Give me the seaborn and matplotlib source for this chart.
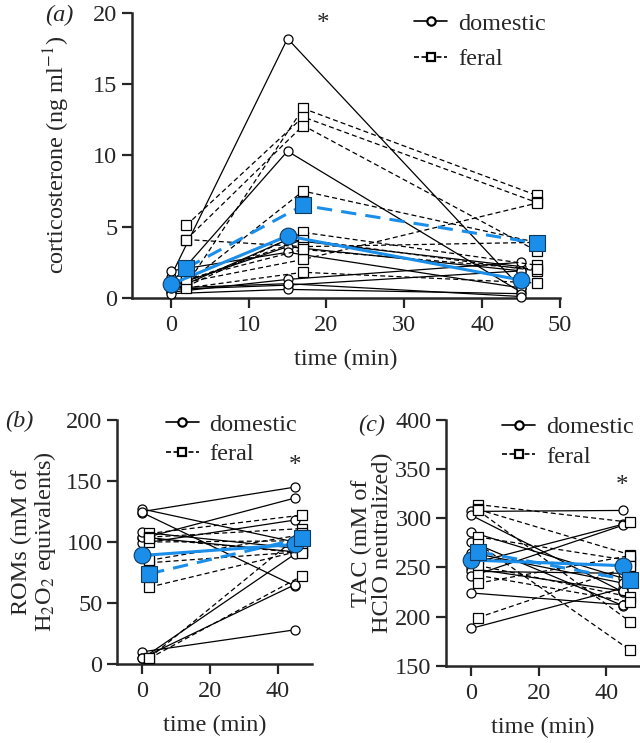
import numpy as np
import pandas as pd
import matplotlib.pyplot as plt
from matplotlib.lines import Line2D
import seaborn as sns

sns.set_style("ticks")
plt.rcParams["font.family"] = ["Liberation Serif", "DejaVu Serif"]
plt.rcParams["mathtext.fontset"] = "stix"

BLUE = "#1a8ee8"

# (a) corticosterone - domestic sampled at 0/15/45 min, feral at 2/17/47 min
cort_dom_time = [0, 15, 45]
cort_fer_time = [2, 17, 47]
cort_dom_0 = [1.5, 1.0, 0.5, 0.8, 1.9, 0.4, 0.6, 0.3, 0.7]
cort_dom_15 = [18.2, 10.3, 4.1, 3.6, 3.2, 1.3, 0.9, 0.6, 1.0]
cort_dom_45 = [0.7, 0.4, 2.2, 1.9, 0.7, 2.5, 1.9, 0.3, 0.1]
cort_fer_2 = [0.9, 5.1, 4.1, 1.0, 0.8, 1.2, 4.1, 1.1, 0.7, 1.3]
cort_fer_17 = [13.3, 12.7, 12.1, 7.5, 4.6, 4.1, 3.6, 2.7, 1.8, 3.4]
cort_fer_47 = [7.2, 6.7, 3.3, 3.9, 2.3, 1.9, 3.9, 6.65, 1.05, 2.0]
cort_dom_mean = [0.95, 4.35, 1.25]
cort_fer_mean = [2.1, 6.5, 3.85]

# (b) ROMs and (c) TAC - domestic at 0/45 min, feral at 2/47 min
ox_dom_time = [0, 45]
ox_fer_time = [2, 47]
rom_dom_0 = [127, 124, 125, 103, 99, 104, 108, 10, 4.6, 5]
rom_dom_45 = [100, 64, 145, 136, 118, 92, 95, 28, 90, 65]
rom_fer_2 = [107, 104, 100, 83, 63, 4.6, 5, 103, 85]
rom_fer_47 = [122, 111, 101, 92, 93, 72, 107, 91, 106]
rom_dom_mean = [89, 98]
rom_fer_mean = [74, 103]

tac_dom_0 = [307, 303, 188, 286, 276, 265, 254, 249, 246, 241, 224]
tac_dom_45 = [308, 225, 229, 239, 211, 234, 294, 226, 244, 293, 212]
tac_fer_2 = [314, 309, 308, 281, 274, 259, 252, 242, 234, 199]
tac_fer_47 = [296, 263, 195, 257, 166, 251, 220, 215, 262, 251]
tac_dom_mean = [257.5, 251.8]
tac_fer_mean = [266, 237]


def long_df(times, cols):
    rows = []
    for t, vals in zip(times, cols):
        for bird, v in enumerate(vals):
            rows.append((bird, t, v))
    return pd.DataFrame(rows, columns=["bird", "time", "value"])


def draw(ax, dom_t, dom_cols, fer_t, fer_cols, dom_mean, fer_mean):
    dom = long_df(dom_t, dom_cols)
    fer = long_df(fer_t, fer_cols)
    sns.lineplot(data=dom, x="time", y="value", units="bird", estimator=None, ax=ax,
                 color="k", lw=0.9, marker="o", ms=6.5, mfc="w", mec="k", mew=0.9,
                 clip_on=False, zorder=3, legend=False)
    sns.lineplot(data=fer, x="time", y="value", units="bird", estimator=None, ax=ax,
                 color="k", lw=0.9, ls=(0, (4, 2.5)), marker="s", ms=6.5, mfc="w", mec="k",
                 mew=0.9, clip_on=False, zorder=3, legend=False)
    sns.lineplot(x=dom_t, y=dom_mean, ax=ax, color=BLUE, lw=2.2, marker="o", ms=12,
                 mfc=BLUE, mec="#10395e", mew=0.8, clip_on=False, zorder=5)
    sns.lineplot(x=fer_t, y=fer_mean, ax=ax, color=BLUE, lw=2.2, ls=(0, (5, 3)), marker="s",
                 ms=11, mfc=BLUE, mec="#10395e", mew=0.8, clip_on=False, zorder=5)


def style(ax, fs=17.5):
    sns.despine(ax=ax)
    for s in ["left", "bottom"]:
        ax.spines[s].set_linewidth(1.8)
    ax.tick_params(width=1.6, length=7.5, labelsize=fs, pad=3)
    ax.tick_params(axis="x", pad=5)
    ax.set_xlabel("time (min)", fontsize=17.5, labelpad=9)


def add_legend(ax, x, y, spacing):
    handles = [Line2D([], [], color="k", lw=1.2, marker="o", ms=6, mfc="w", mew=1.6),
               Line2D([], [], color="k", lw=1.2, ls=(0, (3, 1.5)), marker="s", ms=6, mfc="w", mew=1.6)]
    ax.legend(handles, ["domestic", "feral"], loc="upper left", bbox_to_anchor=(x, y),
              frameon=False, fontsize=17.5, handlelength=1.35, handletextpad=0.45,
              borderpad=0, borderaxespad=0, labelspacing=spacing)


fig = plt.figure(figsize=(6.4, 7.43), dpi=100)
ax_a = fig.add_axes([0.206, 0.599, 0.669, 0.3836])
ax_b = fig.add_axes([0.183, 0.1063, 0.304, 0.3284])
ax_c = fig.add_axes([0.697, 0.104, 0.303, 0.3307])

draw(ax_a, cort_dom_time, [cort_dom_0, cort_dom_15, cort_dom_45],
     cort_fer_time, [cort_fer_2, cort_fer_17, cort_fer_47], cort_dom_mean, cort_fer_mean)
ax_a.set_xlim(-5, 50)
ax_a.set_ylim(0, 20)
ax_a.set_xticks(range(0, 51, 10))
ax_a.set_yticks(range(0, 21, 5))
style(ax_a)
ax_a.set_ylabel("corticosterone (ng ml$^{-1}$)", fontsize=17.5)
ax_a.yaxis.set_label_coords(-0.14, 0.5)
ax_a.text(19.6, 19.2, "*", ha="center", va="center", fontsize=18)
add_legend(ax_a, 0.66, 1.0, 0.55)

draw(ax_b, ox_dom_time, [rom_dom_0, rom_dom_45], ox_fer_time, [rom_fer_2, rom_fer_47],
     rom_dom_mean, rom_fer_mean)
ax_b.set_xlim(-7.5, 50)
ax_b.set_ylim(0, 200)
ax_b.set_xticks([0, 20, 40])
ax_b.set_yticks(range(0, 201, 50))
style(ax_b)
ax_b.set_ylabel("ROMs (mM of\nH$_2$O$_2$ equivalents)", fontsize=17.5, linespacing=1.0)
ax_b.yaxis.set_label_coords(-0.305, 0.5)
ax_b.text(45.1, 162, "*", ha="center", va="center", fontsize=18)
add_legend(ax_b, 0.25, 1.025, 0.3)

draw(ax_c, ox_dom_time, [tac_dom_0, tac_dom_45], ox_fer_time, [tac_fer_2, tac_fer_47],
     tac_dom_mean, tac_fer_mean)
ax_c.set_xlim(-7.5, 50)
ax_c.set_ylim(150, 400)
ax_c.set_xticks([0, 20, 40])
ax_c.set_yticks(range(150, 401, 50))
style(ax_c)
ax_c.set_ylabel("TAC (mM of\nHClO neutralized)", fontsize=17.5, linespacing=1.0)
ax_c.yaxis.set_label_coords(-0.273, 0.5)
ax_c.text(44.6, 333, "*", ha="center", va="center", fontsize=18)
add_legend(ax_c, 0.29, 1.015, 0.3)

fig.text(45 / 640, 1 - 15 / 743, "(a)", fontsize=17.5, style="italic", va="center")
fig.text(5 / 640, 1 - 421 / 743, "(b)", fontsize=17.5, style="italic", va="center")
fig.text(358 / 640, 1 - 425 / 743, "(c)", fontsize=17.5, style="italic", va="center")

fig.savefig("out.png", dpi=100)
